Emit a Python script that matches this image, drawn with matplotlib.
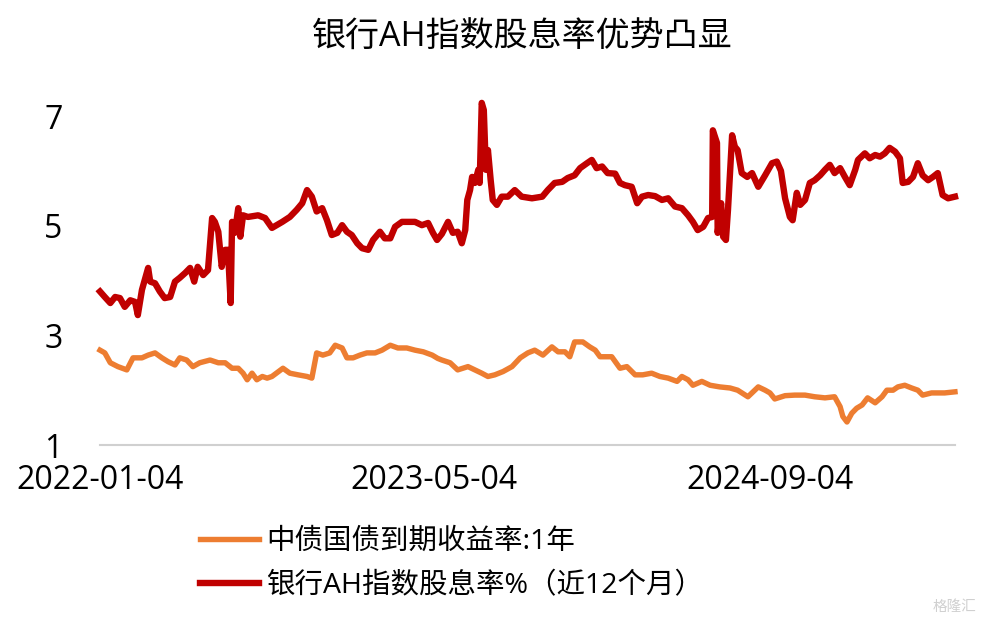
import matplotlib
matplotlib.use("Agg")
import matplotlib.pyplot as plt
import pandas as pd

plt.rcParams['font.family'] = ['Open Sans', 'Noto Sans CJK SC', 'DejaVu Sans']

start = pd.Timestamp("2022-01-04")

# 中债国债到期收益率:1年  (days since 2022-01-04, value %)
bond_days = [0, 7, 15, 26, 39, 48, 61, 70, 80, 90, 99, 109, 116, 126, 135, 145,
             160, 172, 182, 192, 201, 208, 214, 221, 228, 236, 243, 250, 266, 276,
             288, 301, 308, 315, 324, 334, 342, 352, 359, 368, 378, 388, 400, 410,
             422, 433, 446, 458, 470, 483, 491, 497, 509, 520, 535, 545, 555, 564,
             574, 586, 599, 611, 622, 632, 644, 657, 666, 676, 683, 690, 702, 712,
             720, 727, 737, 744, 756, 766, 778, 789, 802, 814, 826, 839, 846, 855,
             862, 875, 887, 901, 916, 927, 942, 957, 967, 974, 981, 996, 1010, 1025,
             1039, 1054, 1068, 1076, 1080, 1086, 1093, 1100, 1108, 1116, 1127, 1137,
             1144, 1153, 1160, 1170, 1180, 1189, 1196, 1209, 1218, 1228, 1243]
bond_vals = [2.73, 2.68, 2.50, 2.43, 2.37, 2.59, 2.59, 2.64, 2.68, 2.59, 2.52, 2.46,
             2.59, 2.55, 2.43, 2.50, 2.55, 2.50, 2.50, 2.40, 2.40, 2.31, 2.19, 2.31,
             2.19, 2.25, 2.22, 2.25, 2.40, 2.31, 2.28, 2.25, 2.22, 2.68, 2.64, 2.68,
             2.82, 2.77, 2.59, 2.59, 2.64, 2.68, 2.68, 2.73, 2.82, 2.77, 2.77, 2.73,
             2.70, 2.64, 2.58, 2.55, 2.50, 2.37, 2.43, 2.37, 2.31, 2.25, 2.28, 2.34,
             2.43, 2.59, 2.68, 2.73, 2.64, 2.79, 2.70, 2.70, 2.61, 2.88, 2.88, 2.79,
             2.73, 2.61, 2.61, 2.61, 2.40, 2.43, 2.28, 2.28, 2.31, 2.25, 2.22, 2.16,
             2.25, 2.19, 2.09, 2.16, 2.09, 2.06, 2.04, 2.00, 1.88, 2.06, 2.00, 1.95,
             1.84, 1.90, 1.91, 1.91, 1.88, 1.86, 1.88, 1.70, 1.52, 1.42, 1.58, 1.67,
             1.73, 1.86, 1.77, 1.88, 2.00, 2.00, 2.06, 2.09, 2.04, 2.00, 1.91, 1.95,
             1.95, 1.95, 1.97]

# 银行AH指数股息率%（近12个月）
bank_days = [0, 7, 15, 22, 29, 36, 44, 51, 55, 61, 70, 73, 80, 87, 94, 102, 109,
             116, 124, 131, 137, 142, 150, 157, 163, 167, 172, 177, 182, 186, 190,
             192, 196, 201, 204, 208, 215, 230, 240, 250, 265, 276, 286, 294, 301,
             308, 315, 323, 330, 337, 345, 352, 359, 366, 374, 381, 390, 397, 407,
             414, 422, 429, 439, 448, 458, 468, 477, 484, 490, 497, 506, 513, 520,
             526, 531, 534, 538, 541, 545, 550, 552, 555, 558, 561, 564, 568, 571,
             577, 584, 593, 603, 613, 628, 643, 651, 661, 672, 680, 690, 698, 708,
             715, 722, 730, 738, 749, 756, 763, 773, 781, 788, 797, 807, 817, 826,
             836, 846, 855, 862, 869, 877, 884, 890, 891, 897, 898, 903, 906, 910,
             913, 919, 923, 927, 933, 941, 948, 957, 967, 977, 984, 990, 996, 1003,
             1007, 1013, 1018, 1025, 1032, 1039, 1047, 1054, 1061, 1068, 1076, 1083,
             1090, 1098, 1102, 1112, 1119, 1127, 1134, 1141, 1148, 1156, 1163, 1167,
             1175, 1182, 1189, 1196, 1204, 1211, 1218, 1225, 1233, 1243]
bank_vals = [3.80, 3.70, 3.59, 3.70, 3.68, 3.52, 3.64, 3.61, 3.37, 3.83, 4.23, 3.98,
             3.95, 3.80, 3.68, 3.70, 3.98, 4.05, 4.14, 4.23, 3.98, 4.25, 4.10, 4.19,
             5.14, 5.07, 4.89, 4.25, 4.56, 4.56, 3.59, 5.07, 4.87, 5.32, 4.80, 5.19,
             5.16, 5.19, 5.14, 4.96, 5.07, 5.16, 5.29, 5.41, 5.65, 5.53, 5.26, 5.32,
             5.10, 4.83, 4.87, 5.01, 4.89, 4.83, 4.68, 4.59, 4.56, 4.74, 4.89, 4.77,
             4.77, 4.98, 5.07, 5.07, 5.07, 5.01, 5.05, 4.87, 4.74, 4.85, 5.07, 4.87,
             4.89, 4.68, 4.92, 5.47, 5.65, 5.89, 5.78, 6.02, 5.78, 7.24, 7.11, 6.02,
             6.38, 5.83, 5.47, 5.38, 5.53, 5.53, 5.65, 5.53, 5.50, 5.53, 5.65, 5.78,
             5.80, 5.87, 5.92, 6.05, 6.14, 6.20, 6.05, 6.08, 5.96, 5.95, 5.78, 5.74,
             5.71, 5.41, 5.53, 5.56, 5.54, 5.47, 5.50, 5.35, 5.32, 5.19, 5.07, 4.92,
             4.98, 5.14, 5.16, 6.74, 6.51, 4.87, 5.41, 4.80, 4.74, 5.29, 6.65, 6.44,
             6.38, 5.96, 5.89, 5.96, 5.71, 5.92, 6.14, 6.17, 6.00, 5.50, 5.16, 5.10,
             5.60, 5.38, 5.47, 5.78, 5.83, 5.92, 6.02, 6.11, 5.96, 6.05, 5.89, 5.74,
             6.02, 6.20, 6.32, 6.23, 6.29, 6.26, 6.32, 6.42, 6.35, 6.23, 5.78, 5.80,
             5.89, 6.14, 5.92, 5.83, 5.89, 5.96, 5.56, 5.50, 5.53]

xtick_dates = ["2022-01-04", "2023-05-04", "2024-09-04"]
yticks = [1, 3, 5, 7]

bond_x = start + pd.to_timedelta(bond_days, unit="D")
bank_x = start + pd.to_timedelta(bank_days, unit="D")

fig = plt.figure(figsize=(9.93, 6.23), dpi=100)
ax = fig.add_axes([0.1007, 0.2857, 0.861, 0.528])

l1, = ax.plot(bond_x, bond_vals, color="#ED7D31", lw=3.9, solid_joinstyle="round",
              label="中债国债到期收益率:1年", clip_on=False)
l2, = ax.plot(bank_x, bank_vals, color="#C00000", lw=4.6, solid_joinstyle="round",
              label="银行AH指数股息率%（近12个月）", clip_on=False)

ax.set_ylim(1, 7)
ax.set_xlim(start, start + pd.Timedelta(days=1243))
ax.set_yticks(yticks)
ax.set_yticklabels([str(v) for v in yticks])
ax.set_xticks(pd.to_datetime(xtick_dates))
ax.set_xticklabels(xtick_dates)
ax.tick_params(axis="y", length=0, pad=27, labelsize=23, colors="#000000")
ax.tick_params(axis="x", length=0, pad=14, labelsize=23, colors="#000000")

for s in ["left", "right", "top"]:
    ax.spines[s].set_visible(False)
ax.spines["bottom"].set_color("#d0d0d0")
ax.spines["bottom"].set_linewidth(1.5)

fig.text(0.526, 0.94, "银行AH指数股息率优势凸显", ha="center", va="center",
         fontsize=24.5, color="#000000")

leg = fig.legend(handles=[l1, l2], loc="upper left",
                 bbox_to_anchor=(0.201, 0.153), bbox_transform=fig.transFigure,
                 frameon=False, fontsize=20.5, handlelength=2.1, handletextpad=0.25,
                 labelspacing=0.58, borderpad=0, borderaxespad=0)

fig.text(0.983, 0.025, "格隆汇", ha="right", va="center", fontsize=10.5,
         color="#d0d0d0")

fig.savefig("out.png", dpi=100)
